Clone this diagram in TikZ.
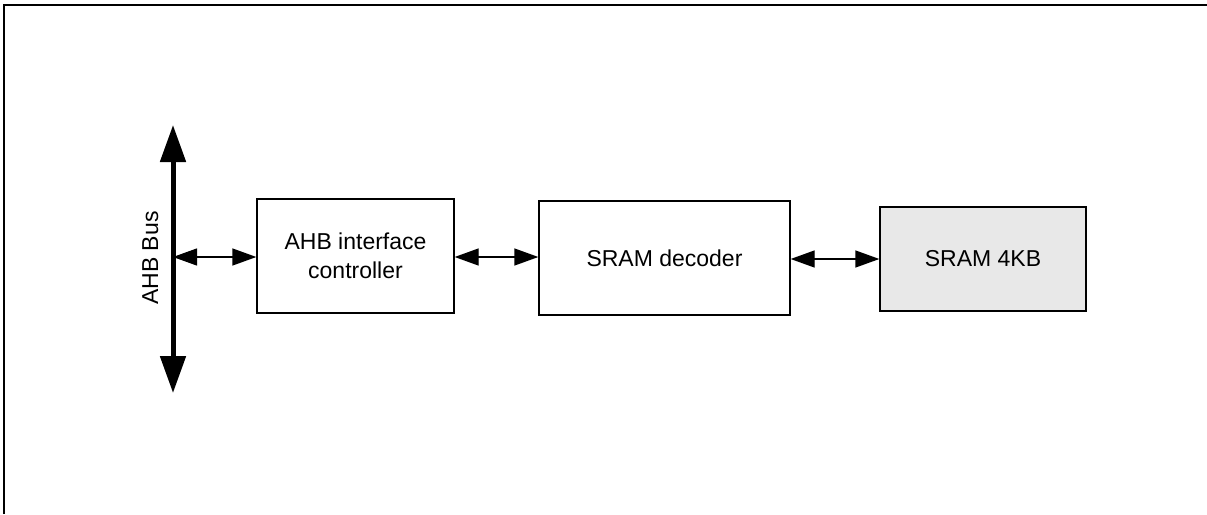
\documentclass[tikz,border=0pt]{standalone}
\usepackage{fontspec}
\setmainfont{Liberation Sans}
\usetikzlibrary{arrows.meta}
\definecolor{boxgray}{HTML}{E8E8E8}
\tikzset{
  blk/.style={draw=black, line width=1.3pt, inner sep=0pt, align=center,
    font=\fontsize{23}{29}\selectfont},
  link/.style={line width=1.3pt, {Triangle[length=24pt,width=17pt]}-{Triangle[length=24pt,width=17pt]}},
  bus/.style={line width=5pt, {Triangle[length=37pt,width=25pt]}-{Triangle[length=37pt,width=25pt]}},
  frame/.style={line width=2.3pt}
}
\begin{document}
\begin{tikzpicture}[x=1pt,y=-1pt]
\useasboundingbox (0,0) rectangle (1207,514);
% frame (top and left only)
\draw[frame] (4.3,514) -- (4.3,5.2) -- (1207,5.2);
% bus
\coordinate (bustop) at (173,125);
\coordinate (busbot) at (173,393);
\coordinate (busmid) at (173,257);
\draw[bus] (bustop) -- (busbot);
\node[font=\fontsize{23}{29}\selectfont, rotate=90, anchor=base, inner sep=0pt] (buslabel) at (158,258) {AHB Bus};
% blocks
\node[blk, minimum width=197pt, minimum height=114pt] (ctrl) at (355.5,256) {AHB interface\\controller};
\node[blk, minimum width=251pt, minimum height=114pt] (dec) at (664.5,258) {SRAM decoder};
\node[blk, fill=boxgray, minimum width=206pt, minimum height=104pt] (sram) at (983,259) {SRAM 4KB};
% links
\draw[link] (busmid) -- (busmid -| ctrl.west);
\draw[link] (ctrl.east |- 0,257) -- (dec.west |- 0,257);
\draw[link] (dec.east |- sram.west) -- (sram.west);
\end{tikzpicture}
\end{document}
